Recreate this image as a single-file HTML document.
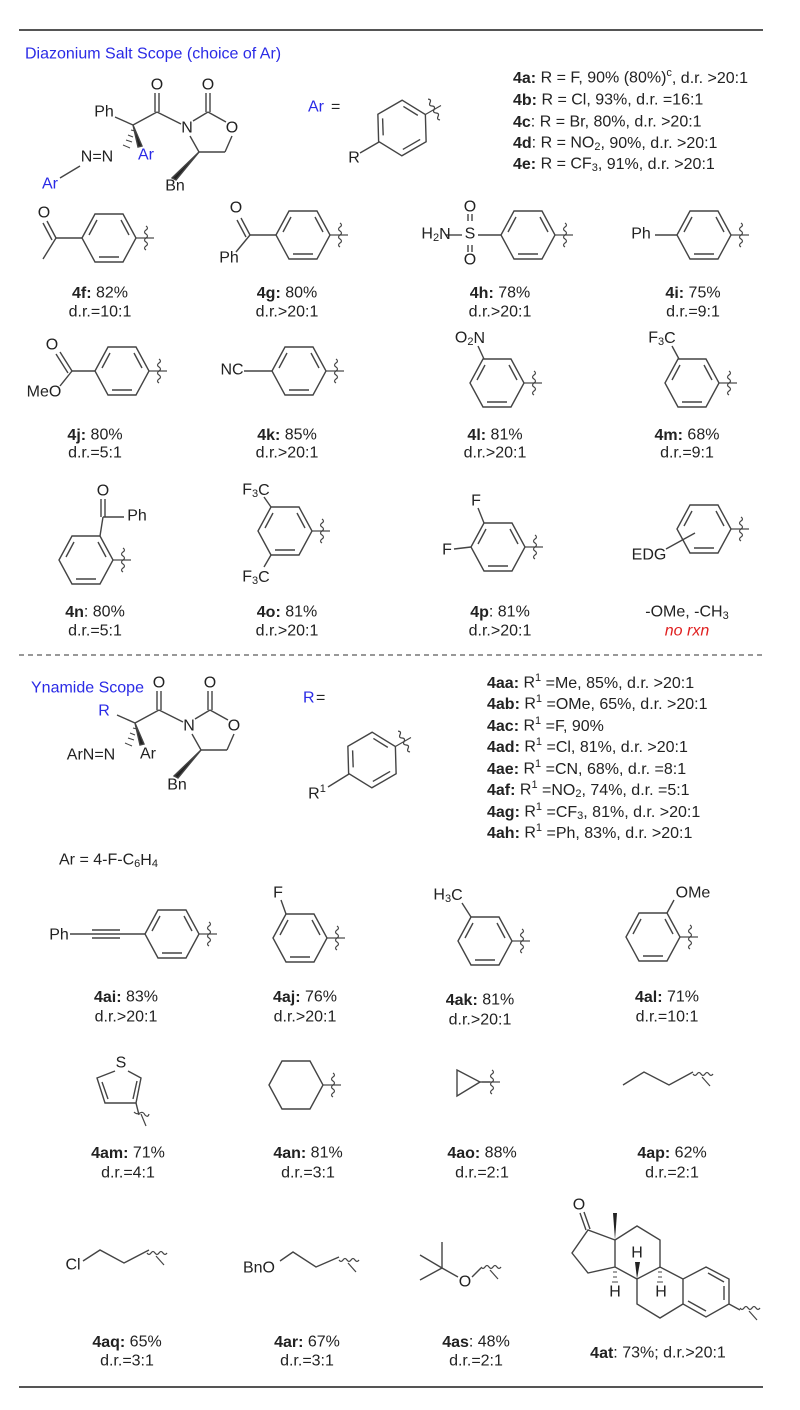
<!DOCTYPE html>
<html><head><meta charset="utf-8"><style>
html,body{margin:0;padding:0;background:#fff}
svg{display:block}
text{font-family:"Liberation Sans",Arial,sans-serif;font-size:16px;fill:#222;dominant-baseline:central}
.c{text-anchor:middle}
.b{font-weight:bold}
.blue{fill:#2a2ae6}
.s{font-size:11px}
</style></head><body>
<svg width="800" height="1410" viewBox="0 0 800 1410" xmlns="http://www.w3.org/2000/svg">
<defs>
<g id="bzF" fill="none" stroke="#444" stroke-width="1.4">
<polygon points="-27,0 -14,-24 14,-24 27,0 14,24 -14,24"/>
<line x1="12" y1="-18" x2="20" y2="-3"/>
<line x1="-10" y1="19" x2="10" y2="19"/>
<line x1="-20" y1="-3" x2="-12" y2="-18"/>
</g>
<g id="hexF" fill="none" stroke="#444" stroke-width="1.4">
<polygon points="-27,0 -14,-24 14,-24 27,0 14,24 -14,24"/>
</g>
<g id="wv" fill="none" stroke="#444" stroke-width="1.2">
<line x1="-10" y1="0" x2="0" y2="0"/>
<path d="M0,-12 q3,2 0,4 q-3,2 0,4 q3,2 0,4 q-3,2 0,4 q3,2 0,4 q-3,2 0,4"/>
<line x1="0" y1="0" x2="8" y2="0"/>
</g>
<g id="wvd" fill="none" stroke="#444" stroke-width="1.2">
<path d="M-9,-6 q2,3 4,0 q2,-3 4,0 q2,3 4,0 q2,-3 4,0 q2,3 4,0"/>
<line x1="0" y1="-3" x2="8" y2="6"/>
</g>
<g id="scaf" fill="none" stroke="#444" stroke-width="1.4">
<line x1="115" y1="117" x2="133" y2="125"/>
<line x1="133" y1="125" x2="157" y2="112"/>
<line x1="155" y1="112" x2="155" y2="93"/><line x1="159" y1="112" x2="159" y2="93"/>
<line x1="157" y1="112" x2="181" y2="124"/>
<line x1="193" y1="121" x2="208" y2="112"/>
<line x1="206" y1="112" x2="206" y2="93"/><line x1="210" y1="112" x2="210" y2="93"/>
<line x1="208" y1="112" x2="226" y2="122"/>
<line x1="232" y1="136" x2="225" y2="152"/>
<line x1="225" y1="152" x2="199" y2="152"/>
<line x1="199" y1="152" x2="190" y2="136"/>
<polygon points="199,152 172,178 176,180" fill="#222"/>
<polygon points="133,125 138,147 142,146" fill="#222"/>
<g stroke-width="1"><line x1="131" y1="130" x2="135" y2="131"/><line x1="128" y1="135" x2="133" y2="137"/><line x1="126" y1="140" x2="132" y2="142"/><line x1="123" y1="145" x2="130" y2="148"/></g>
</g>
</defs>

<line x1="19" y1="30" x2="763" y2="30" stroke="#555" stroke-width="2"/>
<line x1="19" y1="655" x2="763" y2="655" stroke="#777" stroke-width="1.5" stroke-dasharray="5,4"/>
<line x1="19" y1="1387" x2="763" y2="1387" stroke="#555" stroke-width="2"/>

<text x="25" y="54" class="blue">Diazonium Salt Scope (choice of Ar)</text>

<!-- top scaffold -->
<use href="#scaf"/>
<g fill="none" stroke="#444" stroke-width="1.4"><line x1="80" y1="166" x2="60" y2="178"/></g>
<text x="104" y="112" class="c">Ph</text>
<text x="157" y="85" class="c">O</text>
<text x="208" y="85" class="c">O</text>
<text x="187" y="128" class="c">N</text>
<text x="232" y="128" class="c">O</text>
<text x="175" y="186" class="c">Bn</text>
<text x="146" y="155" class="c blue">Ar</text>
<text x="97" y="157" class="c">N=N</text>
<text x="50" y="184" class="c blue">Ar</text>

<text x="308" y="107" class="blue">Ar</text><text x="331" y="107">=</text>
<g transform="translate(402,128) rotate(-30)"><use href="#bzF"/><use href="#wv" x="37"/></g>
<line x1="379" y1="142" x2="360" y2="153" stroke="#444" stroke-width="1.4"/>
<text x="354" y="158" class="c">R</text>

<text x="513" y="78"><tspan class="b">4a:</tspan> R = F, 90% (80%)<tspan class="s" dy="-5">c</tspan><tspan dy="5">, d.r. &gt;20:1</tspan></text>
<text x="513" y="100"><tspan class="b">4b:</tspan> R = Cl, 93%, d.r. =16:1</text>
<text x="513" y="122"><tspan class="b">4c</tspan>: R = Br, 80%, d.r. &gt;20:1</text>
<text x="513" y="143"><tspan class="b">4d</tspan>: R = NO<tspan class="s" dy="4">2</tspan><tspan dy="-4">, 90%, d.r. &gt;20:1</tspan></text>
<text x="513" y="164"><tspan class="b">4e:</tspan> R = CF<tspan class="s" dy="4">3</tspan><tspan dy="-4">, 91%, d.r. &gt;20:1</tspan></text>

<!-- row 1 -->
<g fill="none" stroke="#444" stroke-width="1.4">
<line x1="82" y1="238" x2="56" y2="238"/>
<line x1="56" y1="238" x2="47" y2="221"/><line x1="52" y1="240" x2="43" y2="223"/>
<line x1="56" y1="238" x2="43" y2="259"/>
<line x1="276" y1="235" x2="250" y2="235"/>
<line x1="250" y1="235" x2="241" y2="218"/><line x1="246" y1="237" x2="237" y2="220"/>
<line x1="250" y1="235" x2="236" y2="252"/>
<line x1="501" y1="235" x2="478" y2="235"/>
<line x1="446" y1="235" x2="462" y2="235"/>
<line x1="468" y1="221" x2="468" y2="214"/><line x1="472" y1="221" x2="472" y2="214"/>
<line x1="468" y1="245" x2="468" y2="252"/><line x1="472" y1="245" x2="472" y2="252"/>
<line x1="655" y1="235" x2="677" y2="235"/>
</g>
<use href="#bzF" x="109" y="238"/><use href="#wv" x="146" y="238"/>
<use href="#bzF" x="303" y="235"/><use href="#wv" x="340" y="235"/>
<use href="#bzF" x="528" y="235"/><use href="#wv" x="565" y="235"/>
<use href="#bzF" x="704" y="235"/><use href="#wv" x="741" y="235"/>
<text x="44" y="213" class="c">O</text>
<text x="236" y="208" class="c">O</text>
<text x="229" y="258" class="c">Ph</text>
<text x="436" y="234" class="c">H<tspan class="s" dy="4">2</tspan><tspan dy="-4">N</tspan></text>
<text x="470" y="234" class="c">S</text>
<text x="470" y="207" class="c">O</text>
<text x="470" y="260" class="c">O</text>
<text x="641" y="234" class="c">Ph</text>

<text x="100" y="293" class="c"><tspan class="b">4f:</tspan> 82%</text><text x="100" y="312" class="c">d.r.=10:1</text>
<text x="287" y="293" class="c"><tspan class="b">4g:</tspan> 80%</text><text x="287" y="312" class="c">d.r.&gt;20:1</text>
<text x="500" y="293" class="c"><tspan class="b">4h:</tspan> 78%</text><text x="500" y="312" class="c">d.r.&gt;20:1</text>
<text x="693" y="293" class="c"><tspan class="b">4i:</tspan> 75%</text><text x="693" y="312" class="c">d.r.=9:1</text>

<!-- row 2 -->
<g fill="none" stroke="#444" stroke-width="1.4">
<line x1="95" y1="371" x2="72" y2="371"/>
<line x1="72" y1="371" x2="60" y2="352"/><line x1="68" y1="373" x2="56" y2="354"/>
<line x1="72" y1="371" x2="60" y2="386"/>
<line x1="244" y1="371" x2="272" y2="371"/>
<line x1="484" y1="359" x2="478" y2="346"/>
<line x1="679" y1="359" x2="672" y2="346"/>
</g>
<use href="#bzF" x="122" y="371"/><use href="#wv" x="159" y="371"/>
<use href="#bzF" x="299" y="371"/><use href="#wv" x="336" y="371"/>
<use href="#bzF" x="497" y="383"/><use href="#wv" x="534" y="383"/>
<use href="#bzF" x="692" y="383"/><use href="#wv" x="729" y="383"/>
<text x="52" y="345" class="c">O</text>
<text x="44" y="392" class="c">MeO</text>
<text x="232" y="370" class="c">NC</text>
<text x="470" y="338" class="c">O<tspan class="s" dy="4">2</tspan><tspan dy="-4">N</tspan></text>
<text x="662" y="338" class="c">F<tspan class="s" dy="4">3</tspan><tspan dy="-4">C</tspan></text>

<text x="95" y="435" class="c"><tspan class="b">4j:</tspan> 80%</text><text x="95" y="453" class="c">d.r.=5:1</text>
<text x="287" y="435" class="c"><tspan class="b">4k:</tspan> 85%</text><text x="287" y="453" class="c">d.r.&gt;20:1</text>
<text x="495" y="435" class="c"><tspan class="b">4l:</tspan> 81%</text><text x="495" y="453" class="c">d.r.&gt;20:1</text>
<text x="687" y="435" class="c"><tspan class="b">4m:</tspan> 68%</text><text x="687" y="453" class="c">d.r.=9:1</text>

<!-- row 3 -->
<g fill="none" stroke="#444" stroke-width="1.4">
<line x1="100" y1="536" x2="103" y2="517"/>
<line x1="101" y1="517" x2="101" y2="499"/><line x1="105" y1="517" x2="105" y2="499"/>
<line x1="103" y1="517" x2="124" y2="517"/>
<line x1="271" y1="507" x2="264" y2="497"/>
<line x1="271" y1="555" x2="264" y2="567"/>
<line x1="484" y1="523" x2="478" y2="508"/>
<line x1="471" y1="547" x2="454" y2="549"/>
<line x1="666" y1="549" x2="695" y2="533"/>
</g>
<use href="#bzF" x="86" y="560"/><use href="#wv" x="123" y="560"/>
<use href="#bzF" x="285" y="531"/><use href="#wv" x="322" y="531"/>
<use href="#bzF" x="498" y="547"/><use href="#wv" x="535" y="547"/>
<use href="#bzF" x="704" y="529"/><use href="#wv" x="741" y="529"/>
<text x="103" y="491" class="c">O</text>
<text x="137" y="516" class="c">Ph</text>
<text x="256" y="490" class="c">F<tspan class="s" dy="4">3</tspan><tspan dy="-4">C</tspan></text>
<text x="256" y="577" class="c">F<tspan class="s" dy="4">3</tspan><tspan dy="-4">C</tspan></text>
<text x="476" y="501" class="c">F</text>
<text x="447" y="550" class="c">F</text>
<text x="649" y="555" class="c">EDG</text>

<text x="95" y="612" class="c"><tspan class="b">4n</tspan>: 80%</text><text x="95" y="631" class="c">d.r.=5:1</text>
<text x="287" y="612" class="c"><tspan class="b">4o:</tspan> 81%</text><text x="287" y="631" class="c">d.r.&gt;20:1</text>
<text x="500" y="612" class="c"><tspan class="b">4p</tspan>: 81%</text><text x="500" y="631" class="c">d.r.&gt;20:1</text>
<text x="687" y="612" class="c">-OMe, -CH<tspan class="s" dy="4">3</tspan></text><text x="687" y="631" class="c" style="fill:#e02020;font-style:italic">no rxn</text>

<!-- ynamide -->
<text x="31" y="688" class="blue">Ynamide Scope</text>
<use href="#scaf" transform="translate(2,598)"/>
<text x="104" y="711" class="c blue">R</text>
<text x="159" y="683" class="c">O</text>
<text x="210" y="683" class="c">O</text>
<text x="189" y="726" class="c">N</text>
<text x="234" y="726" class="c">O</text>
<text x="177" y="785" class="c">Bn</text>
<text x="148" y="754" class="c">Ar</text>
<text x="91" y="755" class="c">ArN=N</text>
<text x="59" y="860">Ar = 4-F-C<tspan class="s" dy="4">6</tspan><tspan dy="-4">H</tspan><tspan class="s" dy="4">4</tspan></text>

<text x="303" y="698" class="blue">R</text><text x="316" y="698">=</text>
<g transform="translate(372,760) rotate(-30)"><use href="#bzF"/><use href="#wv" x="37"/></g>
<line x1="349" y1="774" x2="328" y2="787" stroke="#444" stroke-width="1.4"/>
<text x="317" y="794" class="c">R<tspan class="s" dy="-5">1</tspan></text>

<g>
<text x="487" y="683"><tspan class="b">4aa:</tspan> R<tspan class="s" dy="-5">1</tspan><tspan dy="5"> =Me, 85%, d.r. &gt;20:1</tspan></text>
<text x="487" y="704"><tspan class="b">4ab:</tspan> R<tspan class="s" dy="-5">1</tspan><tspan dy="5"> =OMe, 65%, d.r. &gt;20:1</tspan></text>
<text x="487" y="726"><tspan class="b">4ac:</tspan> R<tspan class="s" dy="-5">1</tspan><tspan dy="5"> =F, 90%</tspan></text>
<text x="487" y="747"><tspan class="b">4ad:</tspan> R<tspan class="s" dy="-5">1</tspan><tspan dy="5"> =Cl, 81%, d.r. &gt;20:1</tspan></text>
<text x="487" y="769"><tspan class="b">4ae:</tspan> R<tspan class="s" dy="-5">1</tspan><tspan dy="5"> =CN, 68%, d.r. =8:1</tspan></text>
<text x="487" y="790"><tspan class="b">4af:</tspan> R<tspan class="s" dy="-5">1</tspan><tspan dy="5"> =NO</tspan><tspan class="s" dy="4">2</tspan><tspan dy="-4">, 74%, d.r. =5:1</tspan></text>
<text x="487" y="812"><tspan class="b">4ag:</tspan> R<tspan class="s" dy="-5">1</tspan><tspan dy="5"> =CF</tspan><tspan class="s" dy="4">3</tspan><tspan dy="-4">, 81%, d.r. &gt;20:1</tspan></text>
<text x="487" y="833"><tspan class="b">4ah:</tspan> R<tspan class="s" dy="-5">1</tspan><tspan dy="5"> =Ph, 83%, d.r. &gt;20:1</tspan></text>
</g>

<!-- row 4 -->
<g fill="none" stroke="#444" stroke-width="1.4">
<line x1="70" y1="934" x2="90" y2="934"/>
<line x1="90" y1="934" x2="145" y2="934"/>
<line x1="92" y1="930" x2="120" y2="930"/><line x1="92" y1="938" x2="120" y2="938"/>
<line x1="286" y1="914" x2="281" y2="900"/>
<line x1="471" y1="917" x2="462" y2="903"/>
<line x1="667" y1="913" x2="674" y2="900"/>
</g>
<use href="#bzF" x="172" y="934"/><use href="#wv" x="209" y="934"/>
<use href="#bzF" x="300" y="938"/><use href="#wv" x="337" y="938"/>
<use href="#bzF" x="485" y="941"/><use href="#wv" x="522" y="941"/>
<use href="#bzF" x="653" y="937"/><use href="#wv" x="690" y="937"/>
<text x="59" y="935" class="c">Ph</text>
<text x="278" y="893" class="c">F</text>
<text x="448" y="895" class="c">H<tspan class="s" dy="4">3</tspan><tspan dy="-4">C</tspan></text>
<text x="693" y="893" class="c">OMe</text>

<text x="126" y="997" class="c"><tspan class="b">4ai:</tspan> 83%</text><text x="126" y="1017" class="c">d.r.&gt;20:1</text>
<text x="305" y="997" class="c"><tspan class="b">4aj:</tspan> 76%</text><text x="305" y="1017" class="c">d.r.&gt;20:1</text>
<text x="480" y="1000" class="c"><tspan class="b">4ak:</tspan> 81%</text><text x="480" y="1020" class="c">d.r.&gt;20:1</text>
<text x="667" y="997" class="c"><tspan class="b">4al:</tspan> 71%</text><text x="667" y="1017" class="c">d.r.=10:1</text>

<!-- row 5 -->
<g fill="none" stroke="#444" stroke-width="1.4">
<polyline points="115,1071 97,1078 105,1103 136,1103 141,1078 128,1071"/>
<line x1="102" y1="1082" x2="108" y2="1099"/>
<line x1="137" y1="1081" x2="133" y2="1099"/>
<line x1="136" y1="1103" x2="139" y2="1115"/>
<polygon points="457,1070 480,1082 457,1096"/>
<line x1="480" y1="1082" x2="490" y2="1082"/>
<polyline points="623,1085 644,1072 669,1085 693,1072"/>
</g>
<path d="M134,1112 q3,3 6,1 q3,-2 5,2 q3,3 4,-1" fill="none" stroke="#444" stroke-width="1.2"/>
<line x1="141" y1="1114" x2="146" y2="1126" stroke="#444" stroke-width="1.2"/>
<text x="121" y="1063" class="c">S</text>
<use href="#hexF" x="296" y="1085"/><use href="#wv" x="333" y="1085"/>
<use href="#wv" x="492" y="1082"/>
<use href="#wvd" x="702" y="1080"/>

<text x="128" y="1153" class="c"><tspan class="b">4am:</tspan> 71%</text><text x="128" y="1173" class="c">d.r.=4:1</text>
<text x="308" y="1153" class="c"><tspan class="b">4an:</tspan> 81%</text><text x="308" y="1173" class="c">d.r.=3:1</text>
<text x="482" y="1153" class="c"><tspan class="b">4ao:</tspan> 88%</text><text x="482" y="1173" class="c">d.r.=2:1</text>
<text x="672" y="1153" class="c"><tspan class="b">4ap:</tspan> 62%</text><text x="672" y="1173" class="c">d.r.=2:1</text>

<!-- row 6 -->
<g fill="none" stroke="#444" stroke-width="1.4">
<polyline points="83,1261 100,1250 124,1263 149,1250"/>
<polyline points="280,1261 293,1252 316,1267 339,1257"/>
<line x1="442" y1="1268" x2="442" y2="1242"/>
<line x1="442" y1="1268" x2="420" y2="1255"/>
<line x1="442" y1="1268" x2="420" y2="1280"/>
<line x1="442" y1="1268" x2="458" y2="1277"/>
<line x1="472" y1="1277" x2="481" y2="1268"/>
</g>
<use href="#wvd" x="156" y="1259"/>
<use href="#wvd" x="348" y="1266"/>
<use href="#wvd" x="490" y="1273"/>
<text x="73" y="1265" class="c">Cl</text>
<text x="259" y="1268" class="c">BnO</text>
<text x="465" y="1282" class="c">O</text>

<!-- steroid -->
<g fill="none" stroke="#444" stroke-width="1.4">
<polygon points="706,1267 729,1279 729,1304 706,1317 683,1304 683,1279"/>
<line x1="708" y1="1273" x2="724" y2="1282"/>
<line x1="724" y1="1286" x2="724" y2="1300"/>
<line x1="706" y1="1311" x2="688" y2="1301"/>
<polyline points="683,1279 660,1267 637,1279 637,1304 660,1318 683,1304"/>
<polyline points="660,1267 660,1240 637,1226 615,1240 615,1267 637,1279"/>
<polyline points="615,1240 588,1230 572,1253 588,1273 615,1267"/>
<line x1="586" y1="1230" x2="580" y2="1213"/><line x1="590" y1="1229" x2="584" y2="1212"/>
<line x1="729" y1="1304" x2="740" y2="1310"/>
</g>
<polygon points="615,1240 613,1213 617,1213" fill="#222"/>
<polygon points="637,1279 635,1262 640,1262" fill="#222"/>
<g stroke="#444" stroke-width="1"><line x1="613" y1="1272" x2="617" y2="1272"/><line x1="613" y1="1277" x2="617" y2="1277"/><line x1="612" y1="1282" x2="618" y2="1282"/>
<line x1="658" y1="1272" x2="662" y2="1272"/><line x1="658" y1="1277" x2="662" y2="1277"/><line x1="657" y1="1282" x2="663" y2="1282"/></g>
<text x="579" y="1205" class="c">O</text>
<text x="637" y="1253" class="c">H</text>
<text x="615" y="1292" class="c">H</text>
<text x="661" y="1292" class="c">H</text>
<use href="#wvd" x="749" y="1314"/>

<text x="127" y="1342" class="c"><tspan class="b">4aq:</tspan> 65%</text><text x="127" y="1361" class="c">d.r.=3:1</text>
<text x="307" y="1342" class="c"><tspan class="b">4ar:</tspan> 67%</text><text x="307" y="1361" class="c">d.r.=3:1</text>
<text x="476" y="1342" class="c"><tspan class="b">4as</tspan>: 48%</text><text x="476" y="1361" class="c">d.r.=2:1</text>
<text x="658" y="1353" class="c"><tspan class="b">4at</tspan>: 73%; d.r.&gt;20:1</text>
</svg>
</body></html>
